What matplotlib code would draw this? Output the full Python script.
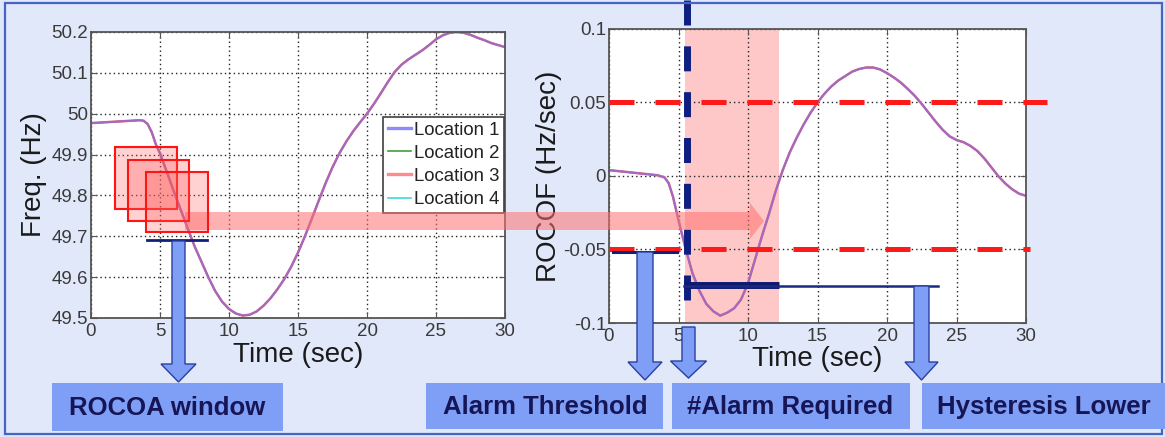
import matplotlib
matplotlib.use("Agg")
import matplotlib.pyplot as plt
from matplotlib.patches import Rectangle, Polygon
from matplotlib.ticker import FixedLocator, FixedFormatter

plt.rcParams['font.family'] = ['Liberation Sans', 'DejaVu Sans']

# ---------------- data ----------------
freq_time = [0, 1, 2, 3, 3.5, 3.8, 4.1, 4.4, 4.7, 5, 5.5, 6, 6.5, 7, 7.5, 8, 8.5, 9, 9.5,
             10, 10.5, 11, 11.5, 12, 12.5, 13, 13.5, 14, 14.5, 15, 15.5, 16, 16.5, 17,
             17.5, 18, 18.5, 19, 19.5, 20, 20.5, 21, 21.5, 22, 22.5, 23, 23.5, 24, 24.5,
             25, 25.5, 26, 26.5, 27, 27.5, 28, 28.5, 29, 29.5, 30]
freq_hz = [49.977, 49.979, 49.981, 49.983, 49.984, 49.983, 49.975, 49.955, 49.925, 49.903,
           49.857, 49.810, 49.765, 49.720, 49.676, 49.638, 49.600, 49.566, 49.540,
           49.522, 49.511, 49.506, 49.508, 49.516, 49.530, 49.548, 49.570, 49.595, 49.625,
           49.660, 49.700, 49.743, 49.787, 49.830, 49.869, 49.903, 49.932, 49.957, 49.979,
           50.000, 50.024, 50.050, 50.077, 50.102, 50.120, 50.133, 50.144, 50.155, 50.168,
           50.182, 50.192, 50.198, 50.200, 50.198, 50.193, 50.186, 50.180, 50.173, 50.168,
           50.163]

rocof_time = [0, 1, 2, 3, 3.5, 4, 4.3, 4.6, 5, 5.5, 6, 6.5, 7, 7.5, 8, 8.5, 9, 9.5, 10,
              10.5, 11, 11.5, 12, 12.5, 13, 13.5, 14, 14.5, 15, 15.5, 16, 16.5, 17, 17.5,
              18, 18.5, 19, 19.5, 20, 20.5, 21, 21.5, 22, 22.5, 23, 23.5, 24, 24.5, 25,
              25.5, 26, 26.5, 27, 27.5, 28, 28.5, 29, 29.5, 30]
rocof_hz_s = [0.004, 0.003, 0.002, 0.001, 0.0005, -0.001, -0.005, -0.014, -0.030, -0.049,
              -0.066, -0.078, -0.087, -0.092, -0.095, -0.093, -0.090, -0.084, -0.073,
              -0.057, -0.041, -0.026, -0.010, 0.004, 0.016, 0.026, 0.035, 0.043, 0.050,
              0.056, 0.061, 0.065, 0.068, 0.071, 0.0728, 0.0738, 0.0738, 0.0725, 0.0700,
              0.0670, 0.0635, 0.0592, 0.0545, 0.0490, 0.0430, 0.0370, 0.0315, 0.0270, 0.0245,
              0.0230, 0.0205, 0.0170, 0.0120, 0.0060, 0.0000, -0.0050, -0.0090, -0.0120,
              -0.0135]

locations = ['Location 1', 'Location 2', 'Location 3', 'Location 4']
loc_colors = ['#6A6AF5', '#3CA03C', '#FF6A6A', '#40D8D8']
loc_widths = [1.5, 1.0, 1.8, 1.0]
loc_alpha = [0.65, 1.0, 1.0, 1.0]
loc_z = [2.4, 2.1, 2.3, 2.2]

freq_ticks = [49.5, 49.6, 49.7, 49.8, 49.9, 50.0, 50.1, 50.2]
freq_ticklabels = ['49.5', '49.6', '49.7', '49.8', '49.9', '50', '50.1', '50.2']
rocof_ticks = [-0.1, -0.05, 0, 0.05, 0.1]
rocof_ticklabels = ['-0.1', '-0.05', '0', '0.05', '0.1']
time_ticks = [0, 5, 10, 15, 20, 25, 30]
time_ticklabels = ['0', '5', '10', '15', '20', '25', '30']

alarm_threshold = 0.05
alarm_start, alarm_end = 5.47, 12.25
alarm_marker_t = 5.6
hysteresis_end = 23.7
hold_level = -0.0741
box_labels = ['ROCOA window', 'Alarm Threshold', '#Alarm Required', 'Hysteresis Lower']

# ---------------- figure ----------------
W, H = 1165, 437
fig = plt.figure(figsize=(W / 100, H / 100), dpi=100)
BG = '#E1E8FA'
fig.patch.set_facecolor(BG)


def px_axes(x0, y0, x1, y1, **kw):
    return fig.add_axes([x0 / W, 1 - y1 / H, (x1 - x0) / W, (y1 - y0) / H], **kw)


def style_axes(ax):
    ax.set_facecolor('white')
    for s in ax.spines.values():
        s.set_color('#555555')
        s.set_linewidth(1.3)
    ax.tick_params(direction='in', length=4, width=0.8, colors='#555555',
                   labelcolor='#3a3a3a', labelsize=13.5, top=True, right=True)
    ax.tick_params(axis='x', pad=3.5)
    ax.tick_params(axis='y', pad=2)
    ax.grid(True, linestyle=(0, (1, 2.2)), color='#222222', linewidth=1.0)


def draw_locations(ax, t, v):
    for name, c, lw, a, z in zip(locations, loc_colors, loc_widths, loc_alpha, loc_z):
        ax.plot(t, v, color=c, lw=lw, alpha=a, zorder=z, label=name)


# Left: frequency
ax1 = px_axes(91, 32, 505, 318)
style_axes(ax1)
draw_locations(ax1, freq_time, freq_hz)
ax1.set_xlim(0, 30)
ax1.set_ylim(49.5, 50.2)
ax1.xaxis.set_major_locator(FixedLocator(time_ticks))
ax1.xaxis.set_major_formatter(FixedFormatter(time_ticklabels))
ax1.yaxis.set_major_locator(FixedLocator(freq_ticks))
ax1.yaxis.set_major_formatter(FixedFormatter(freq_ticklabels))
ax1.set_xlabel('Time (sec)', fontsize=20, color='#1a1a1a', labelpad=1.5)
ax1.set_ylabel('Freq. (Hz)', fontsize=20, color='#1a1a1a', labelpad=3)
leg = ax1.legend(loc='upper right', bbox_to_anchor=(0.997, 0.703), fontsize=13.4,
                 frameon=True, fancybox=False, framealpha=1, edgecolor='#404040',
                 handlelength=1.25, handletextpad=0.15, labelspacing=0.33,
                 borderpad=0.25, borderaxespad=0)
leg.get_frame().set_linewidth(1.2)
for t in leg.get_texts():
    t.set_color('#222222')
for lh, w in zip(leg.get_lines(), [2.4, 1.2, 2.4, 1.2]):
    lh.set_linewidth(w)
    lh.set_alpha(1.0)
leg.get_lines()[0].set_color('#8C8CFF')
leg.get_lines()[2].set_color('#FF8C8C')
# ROCOA window baseline
ax1.plot([4.06, 8.4], [49.691, 49.691], color='#10207A', lw=2, zorder=5, clip_on=False)

# Right: ROCOF
ax2 = px_axes(609, 29, 1026, 323)
style_axes(ax2)
ax2.axvspan(alarm_start, alarm_end, color='#FFC8C8', lw=0, zorder=1)
draw_locations(ax2, rocof_time, rocof_hz_s)
ax2.set_xlim(0, 30)
ax2.set_ylim(-0.1, 0.1)
ax2.xaxis.set_major_locator(FixedLocator(time_ticks))
ax2.xaxis.set_major_formatter(FixedFormatter(time_ticklabels))
ax2.yaxis.set_major_locator(FixedLocator(rocof_ticks))
ax2.yaxis.set_major_formatter(FixedFormatter(rocof_ticklabels))
ax2.set_xlabel('Time (sec)', fontsize=20, color='#1a1a1a', labelpad=0.5)
ax2.set_ylabel('ROCOF (Hz/sec)', fontsize=20, color='#1a1a1a', labelpad=1)

# thresholds (red dashed)
for x_end, lvl in [(31.5, alarm_threshold), (30.3, -alarm_threshold)]:
    ln, = ax2.plot([0, x_end], [lvl, lvl], color='#FF1A1A', lw=3.6, zorder=4, clip_on=False)
    ln.set_dashes([5.0, 4.2])
    ln.set_dash_capstyle('butt')
# alarm threshold baseline
ax2.plot([0.3, 4.9], [-0.0517, -0.0517], color='#10207A', lw=2.2, zorder=5, clip_on=False)
# vertical alarm marker
ln, = ax2.plot([alarm_marker_t, alarm_marker_t], [0.1197, -0.0865], color='#0E1F80', lw=5,
               zorder=6, clip_on=False)
ln.set_dashes([3.6, 3.0])
ln.set_dash_capstyle('butt')
# hold / hysteresis lines
ax2.plot([alarm_start - 0.1, alarm_end], [hold_level, hold_level], color='#0E1A70', lw=5,
         zorder=6, clip_on=False, solid_capstyle='butt')
ax2.plot([alarm_start - 0.1, hysteresis_end], [hold_level - 0.0006, hold_level - 0.0006],
         color='#1A2A80', lw=1.8, zorder=6, clip_on=False)

# ---------------- overlay (annotations in pixel space) ----------------
ov = fig.add_axes([0, 0, 1, 1], zorder=10)
ov.set_xlim(0, W)
ov.set_ylim(H, 0)
ov.axis('off')
ov.patch.set_alpha(0)

# pink horizontal arrow
pink_arrow = Polygon([(185, 212), (750, 212), (750, 203), (764, 221), (750, 239),
                      (750, 230), (185, 230)], closed=True, facecolor='#FF7070',
                     edgecolor='none', alpha=0.55)
ov.add_patch(pink_arrow)

# ROCOA windows (red squares)
for (x0, y0, x1, y1) in [(115, 147, 177, 209), (128, 160, 189, 221), (146, 172, 208, 232)]:
    ov.add_patch(Rectangle((x0, y0), x1 - x0, y1 - y0, facecolor='#FF5A5A', alpha=0.28,
                           edgecolor='none'))
    ov.add_patch(Rectangle((x0, y0), x1 - x0, y1 - y0, facecolor='none',
                           edgecolor='#FF1414', lw=1.5))

ARROW_FILL = '#7F9EF5'
ARROW_EDGE = '#2A3F9F'


def down_arrow(xc, y0, ytip, shaft=14, head=34, head_len=18):
    yb = ytip - head_len
    pts = [(xc - shaft / 2, y0), (xc + shaft / 2, y0), (xc + shaft / 2, yb),
           (xc + head / 2, yb), (xc, ytip), (xc - head / 2, yb), (xc - shaft / 2, yb)]
    ov.add_patch(Polygon(pts, closed=True, facecolor=ARROW_FILL, edgecolor=ARROW_EDGE,
                         lw=1.0, zorder=3))


down_arrow(178.5, 241, 382, shaft=13, head=35)
down_arrow(645, 252, 380, shaft=16, head=34)
down_arrow(688.5, 327, 378, shaft=13, head=36, head_len=17)
down_arrow(921.5, 286, 380, shaft=15, head=33)

# label boxes
boxes = [(52, 383, 283, 431), (426, 383, 663, 429), (672, 383, 910, 429), (922, 383, 1165, 429)]
text_cx = [167, 545, 790, 1044]
for (x0, y0, x1, y1), lab, cx in zip(boxes, box_labels, text_cx):
    ov.add_patch(Rectangle((x0, y0), x1 - x0, y1 - y0, facecolor=ARROW_FILL,
                           edgecolor='none', zorder=2))
    ov.text(cx, (y0 + y1) / 2 + 1, lab, ha='center', va='center', fontsize=18.5,
            fontweight='bold', color='#161656', zorder=4)

# outer frame
ov.add_patch(Rectangle((5, 3), 1157, 431, facecolor='none', edgecolor='#4565C5', lw=1.6,
                       zorder=1))

fig.savefig('out.png', dpi=100, facecolor=BG)
